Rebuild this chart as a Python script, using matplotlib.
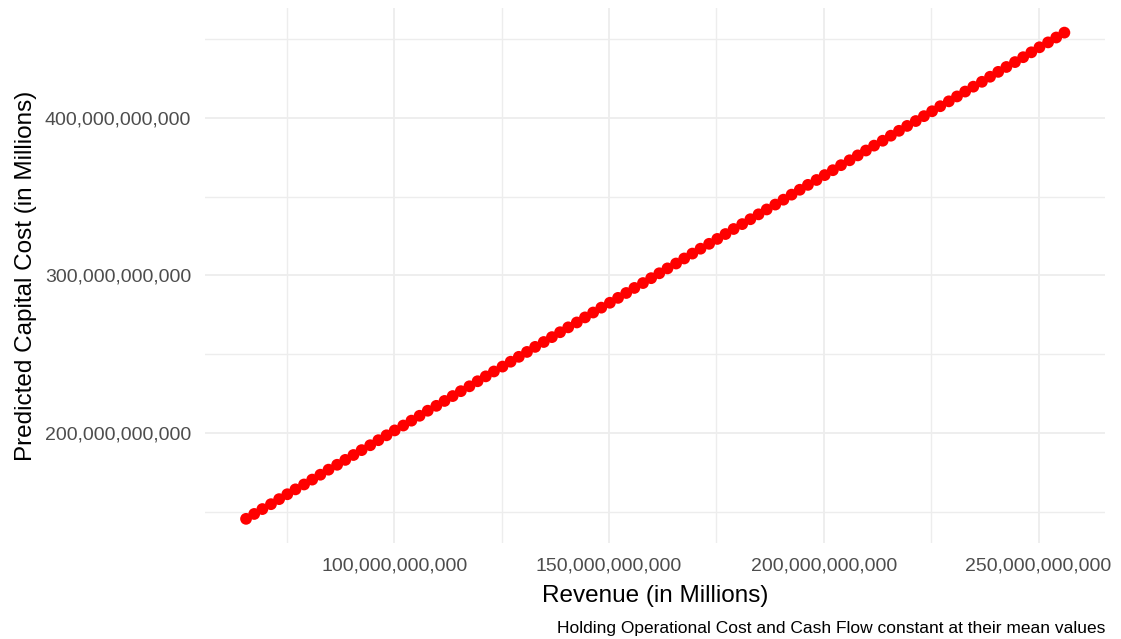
import numpy as np
import matplotlib
matplotlib.use("Agg")
import matplotlib.pyplot as plt
from matplotlib.ticker import FuncFormatter

# ─── Data (billions) ─────────────────────────────────────────────────────────
revenue_bn = [
    65.5, 67.4, 69.3, 71.3, 73.2, 75.1, 77.0, 79.0, 80.9, 82.8,
    84.7, 86.7, 88.6, 90.5, 92.4, 94.4, 96.3, 98.2, 100.1, 102.1,
    104.0, 105.9, 107.8, 109.8, 111.7, 113.6, 115.5, 117.5, 119.4, 121.3,
    123.2, 125.2, 127.1, 129.0, 130.9, 132.8, 134.8, 136.7, 138.6, 140.5,
    142.5, 144.4, 146.3, 148.2, 150.2, 152.1, 154.0, 155.9, 157.9, 159.8,
    161.7, 163.6, 165.6, 167.5, 169.4, 171.3, 173.3, 175.2, 177.1, 179.0,
    181.0, 182.9, 184.8, 186.7, 188.7, 190.6, 192.5, 194.4, 196.3, 198.3,
    200.2, 202.1, 204.0, 206.0, 207.9, 209.8, 211.7, 213.7, 215.6, 217.5,
    219.4, 221.4, 223.3, 225.2, 227.1, 229.1, 231.0, 232.9, 234.8, 236.8,
    238.7, 240.6, 242.5, 244.5, 246.4, 248.3, 250.2, 252.2, 254.1, 256.0,
]
capital_cost_bn = [
    145.5, 148.6, 151.7, 154.8, 158.0, 161.1, 164.2, 167.3, 170.4, 173.5,
    176.7, 179.8, 182.9, 186.0, 189.1, 192.2, 195.4, 198.5, 201.6, 204.7,
    207.8, 210.9, 214.1, 217.2, 220.3, 223.4, 226.5, 229.6, 232.8, 235.9,
    239.0, 242.1, 245.2, 248.3, 251.4, 254.6, 257.7, 260.8, 263.9, 267.0,
    270.1, 273.3, 276.4, 279.5, 282.6, 285.7, 288.8, 292.0, 295.1, 298.2,
    301.3, 304.4, 307.5, 310.7, 313.8, 316.9, 320.0, 323.1, 326.2, 329.4,
    332.5, 335.6, 338.7, 341.8, 344.9, 348.0, 351.2, 354.3, 357.4, 360.5,
    363.6, 366.7, 369.9, 373.0, 376.1, 379.2, 382.3, 385.4, 388.6, 391.7,
    394.8, 397.9, 401.0, 404.1, 407.3, 410.4, 413.5, 416.6, 419.7, 422.8,
    426.0, 429.1, 432.2, 435.3, 438.4, 441.5, 444.7, 447.8, 450.9, 454.0,
]
x_major = [100e9, 150e9, 200e9, 250e9]
x_minor = [75e9, 125e9, 175e9, 225e9]
y_major = [200e9, 300e9, 400e9]
y_minor = [150e9, 250e9, 350e9, 450e9]

x = np.array(revenue_bn) * 1e9
y = np.array(capital_cost_bn) * 1e9

plt.rcParams["font.family"] = ["Liberation Sans", "DejaVu Sans"]

fig = plt.figure(figsize=(11.21, 6.39), dpi=100)
ax = fig.add_axes([0.183, 0.150, 0.803, 0.837])

ax.scatter(x, y, s=72, color="#FF0000", edgecolors="none", zorder=3)

# expand 5% like ggplot
xr = x.max() - x.min()
yr = y.max() - y.min()
ax.set_xlim(x.min() - 0.05 * xr, x.max() + 0.05 * xr)
ax.set_ylim(y.min() - 0.05 * yr, y.max() + 0.05 * yr)

ax.set_xticks(x_major)
ax.set_xticks(x_minor, minor=True)
ax.set_yticks(y_major)
ax.set_yticks(y_minor, minor=True)
fmt = FuncFormatter(lambda v, _: f"{v:,.0f}")
ax.xaxis.set_major_formatter(fmt)
ax.yaxis.set_major_formatter(fmt)

ax.grid(which="major", color="#EDEDED", linewidth=1.3)
ax.grid(which="minor", color="#EDEDED", linewidth=1.0)
ax.set_axisbelow(True)
for s in ax.spines.values():
    s.set_visible(False)
ax.tick_params(which="both", length=0)
ax.tick_params(axis="x", labelsize=14, labelcolor="#4D4D4D", pad=10)
ax.tick_params(axis="y", labelsize=14, labelcolor="#4D4D4D", pad=10)

ax.set_xlabel("Revenue (in Millions)", fontsize=17.5, labelpad=8)
ax.set_ylabel("Predicted Capital Cost (in Millions)", fontsize=17.5, labelpad=6)

fig.text(0.986, 0.016, "Holding Operational Cost and Cash Flow constant at their mean values",
         ha="right", va="center", fontsize=12.5)

fig.savefig("out.png", dpi=100)
